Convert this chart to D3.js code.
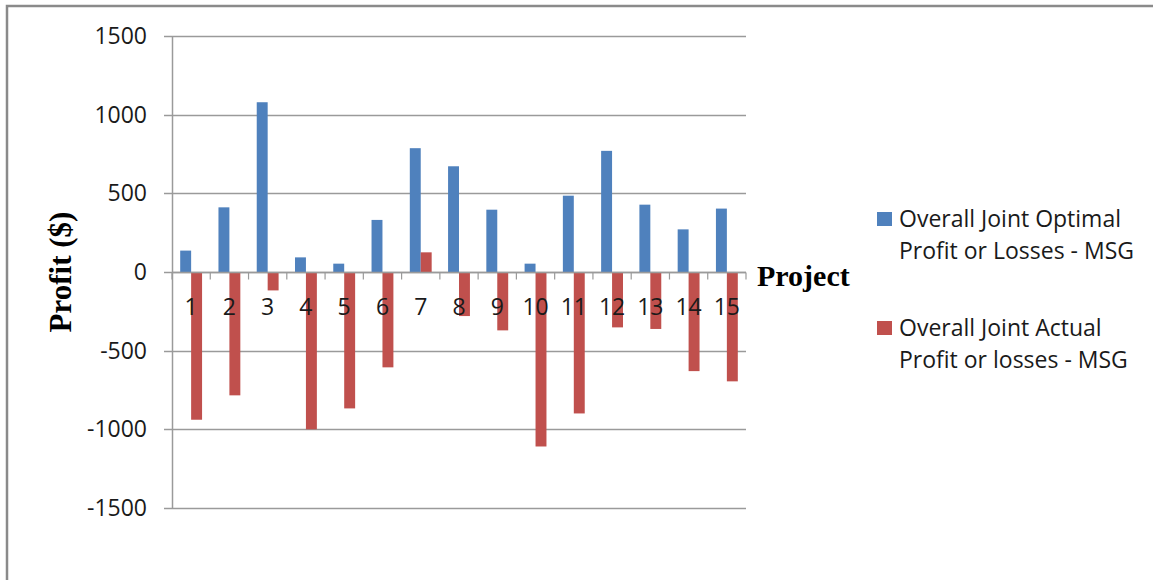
<!DOCTYPE html>
<html>
<head>
<meta charset="utf-8">
<script src="https://cdn.jsdelivr.net/npm/d3@7"></script>
<style>
  html, body { margin: 0; padding: 0; background: #fff; }
  svg { display: block; }
</style>
</head>
<body>
<svg id="chart" width="1153" height="580"></svg>
<script>
// Projects on the category axis
const projects = ["1","2","3","4","5","6","7","8","9","10","11","12","13","14","15"];
// Overall joint optimal profit or losses (MSG), $
const optimal = [136, 411, 1079, 93, 53, 331, 787, 672, 396, 53, 485, 770, 428, 271, 403];
// Overall joint actual profit or losses (MSG), $
const actual = [-939, -784, -117, -1000, -867, -606, 125, -280, -371, -1109, -899, -352, -362, -630, -695];
// Value axis ticks
const yTicks = [-1500, -1000, -500, 0, 500, 1000, 1500];
const seriesNames = [
  ["Overall Joint Optimal", "Profit or Losses - MSG"],
  ["Overall Joint Actual", "Profit or losses - MSG"]
];
const colors = ["#4F81BD", "#C0504D"];

const svg = d3.select("#chart");
const textFont = "'Open Sans', 'DejaVu Sans', sans-serif";
const fontSize = 23;
const plot = { left: 172, right: 746, top: 36, bottom: 508 };

// Outer chart frame (top and left edges visible)
svg.append("path")
  .attr("d", "M7,590 L7,6 L1160,6")
  .attr("fill", "none")
  .attr("stroke", "#8a8a8a")
  .attr("stroke-width", 2.5);

const x = d3.scaleBand().domain(projects).range([plot.left, plot.right]).paddingInner(0).paddingOuter(0);
const xs = d3.scaleBand().domain([0, 1]).range([0, x.bandwidth()]).paddingInner(0).paddingOuter(0.75);
const y = d3.scaleLinear().domain([-1500, 1500]).range([plot.bottom, plot.top]);

// Horizontal gridlines with left tick marks
svg.append("g").selectAll("line").data(yTicks).join("line")
  .attr("x1", plot.left - 8).attr("x2", plot.right)
  .attr("y1", d => Math.round(y(d)) + 0.5).attr("y2", d => Math.round(y(d)) + 0.5)
  .attr("stroke", "#9a9a9a").attr("stroke-width", 1.5);

// Value axis (plain integers with hyphen minus)
const yAxis = d3.axisLeft(y).tickValues(yTicks).tickSize(0).tickPadding(25)
  .tickFormat(d => String(d));
const gy = svg.append("g").attr("transform", `translate(${plot.left},0)`).call(yAxis);
gy.select(".domain").remove();
gy.selectAll("text")
  .attr("font-family", textFont).attr("font-size", fontSize).attr("fill", "#1a1a1a");
svg.append("line")
  .attr("x1", plot.left + 0.5).attr("x2", plot.left + 0.5)
  .attr("y1", plot.top).attr("y2", plot.bottom)
  .attr("stroke", "#9a9a9a").attr("stroke-width", 1.5);

// Bars
const rows = projects.map((p, i) => ({ p, vals: [optimal[i], actual[i]] }));
const groups = svg.append("g").selectAll("g").data(rows).join("g")
  .attr("transform", d => `translate(${x(d.p)},0)`);
groups.selectAll("rect").data(d => d.vals.map((v, s) => ({ v, s }))).join("rect")
  .attr("x", d => xs(d.s))
  .attr("width", xs.bandwidth())
  .attr("y", d => y(Math.max(0, d.v)))
  .attr("height", d => Math.abs(y(d.v) - y(0)))
  .attr("fill", d => colors[d.s]);

// Category axis at zero with tick marks between projects
const zeroY = Math.round(y(0)) + 0.5;
svg.append("line")
  .attr("x1", plot.left).attr("x2", plot.right)
  .attr("y1", zeroY).attr("y2", zeroY)
  .attr("stroke", "#9a9a9a").attr("stroke-width", 1.5);
const bounds = projects.map(p => x(p)).concat([plot.right]);
svg.append("g").selectAll("line").data(bounds).join("line")
  .attr("x1", d => d).attr("x2", d => d)
  .attr("y1", zeroY).attr("y2", zeroY + 7)
  .attr("stroke", "#9a9a9a").attr("stroke-width", 1.2);

// Category labels
svg.append("g").selectAll("text").data(projects).join("text")
  .attr("x", d => x(d) + x.bandwidth() / 2)
  .attr("y", 315)
  .attr("text-anchor", "middle")
  .attr("font-family", textFont).attr("font-size", fontSize).attr("fill", "#1a1a1a")
  .text(d => d);

// Axis titles
svg.append("text")
  .attr("x", 757).attr("y", 286)
  .attr("font-family", "'Liberation Serif', 'Times New Roman', serif")
  .attr("font-weight", "bold").attr("font-size", 30).attr("fill", "#000")
  .text("Project");
svg.append("text")
  .attr("transform", "translate(71,272) rotate(-90)")
  .attr("text-anchor", "middle")
  .attr("font-family", "'Liberation Serif', 'Times New Roman', serif")
  .attr("font-weight", "bold").attr("font-size", 31).attr("fill", "#000")
  .text("Profit ($)");

// Legend
const legendTop = [212, 321];
const legend = svg.append("g").selectAll("g").data(seriesNames).join("g");
legend.append("rect")
  .attr("x", 877).attr("y", (d, i) => legendTop[i])
  .attr("width", 15).attr("height", 14)
  .attr("fill", (d, i) => colors[i]);
legend.append("text")
  .attr("x", 899).attr("y", (d, i) => legendTop[i] + 15)
  .attr("font-family", textFont).attr("font-size", fontSize).attr("fill", "#1a1a1a")
  .selectAll("tspan").data(d => d).join("tspan")
  .attr("x", 899).attr("dy", (d, j) => j === 0 ? 0 : 32)
  .text(d => d);
</script>
</body>
</html>
